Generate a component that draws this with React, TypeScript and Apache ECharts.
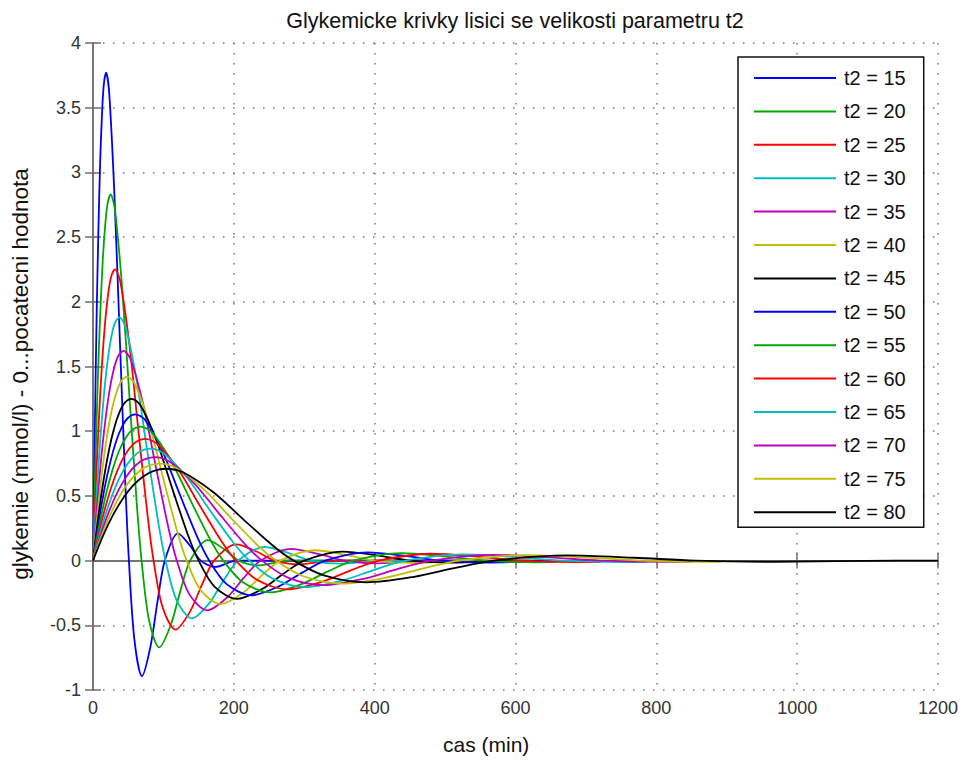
import React, { useEffect, useRef } from "react";
import * as echarts from "echarts";

// t2 parameter labels
const legendNames = [
  "t2 = 15", "t2 = 20", "t2 = 25", "t2 = 30", "t2 = 35", "t2 = 40", "t2 = 45",
  "t2 = 50", "t2 = 55", "t2 = 60", "t2 = 65", "t2 = 70", "t2 = 75", "t2 = 80",
];

const lineColors = [
  "#0000ff", "#00a800", "#ff0000", "#00bfbf", "#bf00bf", "#bfbf00", "#000000",
  "#0000ff", "#00a800", "#ff0000", "#00bfbf", "#bf00bf", "#bfbf00", "#000000",
];

const xTicks = [0, 200, 400, 600, 800, 1000, 1200];
const yTicks = [-1, -0.5, 0, 0.5, 1, 1.5, 2, 2.5, 3, 3.5, 4];

// [time (min), glycemia change (mmol/l)]
const c15 = [[0,0],[2.6,1.018],[5.1,1.874],[7.7,2.56],[10.2,3.084],[12.8,3.453],[15.3,3.676],[18.5,3.77],[23,3.615],[30.6,2.805],[38.3,1.681],[45.9,0.592],[51,0],[58.7,-0.607],[69.5,-0.893],[81.6,-0.664],[91.8,-0.309],[102,0],[120.5,0.211],[137.7,0.117],[153,0],[173.4,-0.049],[204,0],[480,0]];
const c20 = [[0,0],[3.5,0.764],[6.9,1.407],[10.4,1.922],[13.8,2.315],[17.3,2.592],[20.7,2.759],[25,2.83],[31.1,2.714],[41.4,2.106],[51.8,1.262],[62.1,0.444],[69,0],[79.4,-0.456],[94,-0.671],[110.4,-0.498],[124.2,-0.232],[138,0],[163,0.158],[186.3,0.088],[207,0],[234.6,-0.037],[276,0],[520,0]];
const c25 = [[0,0],[4.3,0.608],[8.6,1.118],[12.9,1.528],[17.2,1.841],[21.5,2.061],[25.8,2.194],[31.2,2.25],[38.7,2.158],[51.6,1.674],[64.5,1.004],[77.4,0.353],[86,0],[98.9,-0.362],[117.2,-0.533],[137.6,-0.396],[154.8,-0.185],[172,0],[203.2,0.126],[232.2,0.07],[258,0],[292.4,-0.029],[344,0],[560,0]];
const c30 = [[0,0],[5.2,0.508],[10.3,0.934],[15.5,1.277],[20.6,1.538],[25.8,1.722],[30.9,1.833],[37.4,1.88],[46.4,1.803],[61.8,1.399],[77.3,0.838],[92.7,0.295],[103,0],[118.5,-0.303],[140.4,-0.446],[164.8,-0.331],[185.4,-0.154],[206,0],[243.4,0.105],[278.1,0.058],[309,0],[350.2,-0.024],[412,0],[600,0]];
const c35 = [[0,0],[6,0.437],[11.9,0.805],[17.9,1.1],[23.8,1.325],[29.8,1.484],[35.7,1.58],[43.2,1.62],[53.6,1.554],[71.4,1.205],[89.3,0.723],[107.1,0.254],[119,0],[136.9,-0.261],[162.2,-0.384],[190.4,-0.285],[214.2,-0.133],[238,0],[281.2,0.091],[321.3,0.05],[357,0],[404.6,-0.021],[476,0],[620,0]];
const c40 = [[0,0],[6.7,0.383],[13.3,0.706],[20,0.964],[26.6,1.162],[33.3,1.301],[39.9,1.385],[48.3,1.42],[59.9,1.362],[79.8,1.056],[99.8,0.633],[119.7,0.223],[133,0],[153,-0.229],[181.3,-0.337],[212.8,-0.25],[239.4,-0.116],[266,0],[314.3,0.08],[359.1,0.044],[399,0],[452.2,-0.018],[532,0],[640,0]];
const c45 = [[0,0],[7.5,0.338],[15,0.621],[22.5,0.849],[30,1.023],[37.5,1.145],[45,1.219],[54.5,1.25],[67.5,1.199],[90,0.93],[112.5,0.558],[135,0.196],[150,0],[172.5,-0.201],[204.5,-0.296],[240,-0.22],[270,-0.103],[300,0],[354.5,0.07],[405,0.039],[450,0],[510,-0.016],[600,0],[650,0]];
const c50 = [[0,0],[8.3,0.305],[16.5,0.562],[24.8,0.767],[33,0.924],[41.3,1.035],[49.5,1.102],[59.9,1.13],[74.3,1.084],[99,0.841],[123.8,0.504],[148.5,0.177],[165,0],[189.8,-0.182],[224.9,-0.268],[264,-0.199],[297,-0.093],[330,0],[389.9,0.063],[445.5,0.035],[495,0],[561,-0.015],[650,0]];
const c55 = [[0,0],[9.3,0.279],[18.5,0.514],[27.8,0.703],[37,0.847],[46.3,0.948],[55.5,1.009],[67.2,1.035],[83.3,0.993],[111,0.77],[138.8,0.462],[166.5,0.162],[185,0],[212.8,-0.167],[252.2,-0.245],[296,-0.182],[333,-0.085],[370,0],[437.2,0.058],[499.5,0.032],[555,0],[629,-0.013],[656,-0.01]];
const c60 = [[0,0],[10.2,0.254],[20.3,0.467],[30.5,0.638],[40.6,0.769],[50.8,0.861],[60.9,0.917],[73.7,0.94],[91.4,0.901],[121.8,0.699],[152.3,0.419],[182.7,0.148],[203,0],[233.5,-0.151],[276.7,-0.223],[324.8,-0.165],[365.4,-0.077],[406,0],[479.7,0.053],[548.1,0.029],[609,0],[690.2,-0.012],[722,-0.01]];
const c65 = [[0,0],[11.1,0.234],[22.2,0.43],[33.3,0.587],[44.4,0.708],[55.5,0.792],[66.6,0.843],[80.6,0.865],[99.9,0.83],[133.2,0.644],[166.5,0.386],[199.8,0.136],[222,0],[255.3,-0.139],[302.6,-0.205],[355.2,-0.152],[399.6,-0.071],[444,0],[524.6,0.048],[599.4,0.027],[666,0],[754.8,-0.011],[786,-0.009]];
const c70 = [[0,0],[12,0.216],[24,0.398],[36,0.543],[48,0.654],[60,0.733],[72,0.78],[87.1,0.8],[108,0.767],[144,0.595],[180,0.357],[216,0.126],[240,0],[276,-0.129],[327.1,-0.19],[384,-0.141],[432,-0.066],[480,0],[567.1,0.045],[648,0.025],[720,0],[816,-0.01],[850,-0.008]];
const c75 = [[0,0],[13,0.203],[26,0.373],[39,0.509],[52,0.614],[65,0.687],[78,0.731],[94.4,0.75],[117,0.719],[156,0.558],[195,0.335],[234,0.118],[260,0],[299,-0.121],[354.4,-0.178],[416,-0.132],[468,-0.062],[520,0],[614.4,0.042],[702,0.023],[780,0],[884,-0.01],[893,-0.01]];
const c80 = [[0,0],[14.3,0.192],[28.5,0.353],[42.8,0.482],[57,0.581],[71.3,0.65],[85.5,0.692],[103.5,0.71],[128.3,0.681],[171,0.528],[213.8,0.317],[256.5,0.111],[285,0],[327.8,-0.114],[388.5,-0.168],[456,-0.125],[513,-0.058],[570,0],[673.5,0.04],[769.5,0.022],[855,0],[969,-0.009],[1140,0],[1200,0]];

const curves = [c15, c20, c25, c30, c35, c40, c45, c50, c55, c60, c65, c70, c75, c80];

const FONT = "'Liberation Sans', Arial, Helvetica, sans-serif";
const AXIS_COLOR = "#6e6e6e";

export default function App() {
  const ref = useRef<HTMLDivElement>(null);

  useEffect(() => {
    if (!ref.current) return;
    const chart = echarts.init(ref.current, undefined, { renderer: "svg" });

    const boxLine = { show: true, lineStyle: { color: AXIS_COLOR, width: 1.5 } };
    const tick = { show: true, inside: true, length: 8, lineStyle: { color: AXIS_COLOR, width: 1.5 } };
    const gridDots = { show: true, lineStyle: { color: "#777", width: 1.5, type: [1.5, 8.5] } };

    chart.setOption({
      animation: false,
      backgroundColor: "#ffffff",
      title: {
        text: "Glykemicke krivky lisici se velikosti parametru t2",
        left: 510,
        top: 5,
        textAlign: "center",
        textStyle: { fontFamily: FONT, fontSize: 21.5, fontWeight: "normal", color: "#111" },
      },
      grid: { left: 93, top: 43, right: 25, bottom: 70 },
      legend: {
        orient: "vertical",
        left: 738,
        top: 57,
        itemWidth: 82,
        itemHeight: 14,
        itemGap: 13.4,
        padding: [11, 18, 5, 15],
        backgroundColor: "#ffffff",
        borderColor: "#111",
        borderWidth: 1.5,
        borderRadius: 0,
        selectedMode: false,
        itemStyle: { opacity: 0 },
        textStyle: { fontFamily: FONT, fontSize: 20, lineHeight: 20, color: "#111", padding: [0, 0, 0, 3] },
        data: legendNames,
      },
      xAxis: [
        {
          type: "value",
          min: 0,
          max: 1200,
          interval: 200,
          position: "bottom",
          axisLine: boxLine,
          axisTick: tick,
          splitLine: gridDots,
          axisLabel: {
            fontFamily: FONT,
            fontSize: 18,
            color: "#333",
            margin: 9,
            formatter: (v: number) => (xTicks.includes(v) ? String(v) : ""),
          },
        },
        {
          type: "value",
          min: 0,
          max: 1200,
          interval: 200,
          position: "top",
          axisLine: boxLine,
          axisTick: tick,
          splitLine: { show: false },
          axisLabel: { show: false },
        },
      ],
      yAxis: [
        {
          type: "value",
          min: -1,
          max: 4,
          interval: 0.5,
          position: "left",
          axisLine: boxLine,
          axisTick: tick,
          splitLine: gridDots,
          axisLabel: {
            fontFamily: FONT,
            fontSize: 18,
            color: "#333",
            margin: 12,
            formatter: (v: number) => (yTicks.includes(v) ? String(v) : ""),
          },
        },
        {
          type: "value",
          min: -1,
          max: 4,
          interval: 0.5,
          position: "right",
          axisLine: boxLine,
          axisTick: tick,
          splitLine: { show: false },
          axisLabel: { show: false },
        },
      ],
      graphic: [
        {
          type: "text",
          left: 443,
          top: 734,
          style: { text: "cas (min)", font: `21px ${FONT}`, fill: "#111" },
        },
        {
          type: "text",
          x: 9,
          y: 374,
          rotation: Math.PI / 2,
          style: {
            text: "glykemie (mmol/l) - 0...pocatecni hodnota",
            font: `22.5px ${FONT}`,
            fill: "#111",
            align: "center",
            verticalAlign: "top",
          },
        },
      ],
      series: curves.map((data, i) => ({
        type: "line",
        name: legendNames[i],
        data,
        xAxisIndex: 0,
        yAxisIndex: 0,
        symbol: "none",
        smooth: 0.3,
        clip: true,
        lineStyle: { color: lineColors[i], width: 1.8 },
        itemStyle: { color: lineColors[i] },
        emphasis: { disabled: true },
      })),
    });

    return () => chart.dispose();
  }, []);

  return (
    <div
      ref={ref}
      style={{ position: "fixed", left: 0, top: 0, width: 963, height: 760, background: "#fff" }}
    />
  );
}
